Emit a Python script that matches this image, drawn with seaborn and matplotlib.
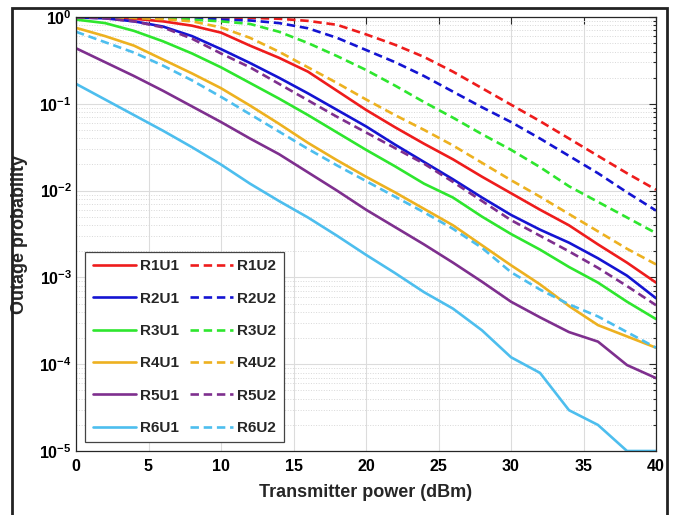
import matplotlib
matplotlib.use('Agg')
import matplotlib.pyplot as plt
import numpy as np
import pandas as pd
import seaborn as sns
from matplotlib.patches import Rectangle
from matplotlib.ticker import LogLocator, NullFormatter, FixedLocator

# transmitter power (dBm)
power = np.arange(0, 41, 2)

# outage probability, stored as log10 values
r1u1 = [-0.00, -0.005, -0.02, -0.05, -0.10, -0.18, -0.33, -0.47, -0.63, -0.85, -1.07,
        -1.27, -1.46, -1.64, -1.84, -2.03, -2.22, -2.40, -2.62, -2.83, -3.06]
r1u2 = [0.0, 0.0, 0.0, 0.0, -0.002, -0.005, -0.01, -0.02, -0.045, -0.09, -0.20,
        -0.32, -0.46, -0.63, -0.82, -1.01, -1.20, -1.40, -1.60, -1.80, -1.99]
r2u1 = [-0.005, -0.015, -0.05, -0.11, -0.22, -0.37, -0.53, -0.70, -0.88, -1.07, -1.26,
        -1.47, -1.67, -1.87, -2.08, -2.28, -2.45, -2.60, -2.78, -2.98, -3.24]
r2u2 = [0.0, 0.0, -0.003, -0.007, -0.015, -0.03, -0.04, -0.07, -0.13, -0.24, -0.38,
        -0.52, -0.68, -0.86, -1.04, -1.21, -1.40, -1.60, -1.80, -2.02, -2.23]
r3u1 = [-0.03, -0.07, -0.16, -0.28, -0.42, -0.58, -0.76, -0.94, -1.13, -1.33, -1.53,
        -1.72, -1.92, -2.08, -2.30, -2.50, -2.68, -2.88, -3.06, -3.28, -3.48]
r3u2 = [-0.002, -0.004, -0.008, -0.015, -0.03, -0.05, -0.08, -0.17, -0.30, -0.45, -0.61,
        -0.79, -0.98, -1.16, -1.35, -1.53, -1.73, -1.95, -2.13, -2.31, -2.49]
r4u1 = [-0.125, -0.22, -0.33, -0.49, -0.65, -0.82, -1.02, -1.23, -1.45, -1.65, -1.84,
        -2.02, -2.21, -2.40, -2.63, -2.86, -3.08, -3.33, -3.55, -3.68, -3.81]
r4u2 = [0.0, -0.005, -0.01, -0.025, -0.05, -0.12, -0.24, -0.40, -0.58, -0.76, -0.95,
        -1.13, -1.30, -1.48, -1.68, -1.88, -2.07, -2.27, -2.47, -2.67, -2.85]
r5u1 = [-0.36, -0.52, -0.68, -0.85, -1.03, -1.21, -1.40, -1.58, -1.79, -2.00, -2.22,
        -2.42, -2.62, -2.83, -3.05, -3.28, -3.46, -3.63, -3.74, -4.01, -4.16]
r5u2 = [-0.003, -0.015, -0.05, -0.12, -0.25, -0.42, -0.58, -0.77, -0.96, -1.15, -1.33,
        -1.51, -1.69, -1.90, -2.12, -2.34, -2.52, -2.70, -2.89, -3.10, -3.32]
r6u1 = [-0.77, -0.95, -1.13, -1.31, -1.50, -1.70, -1.92, -2.12, -2.31, -2.52, -2.74,
        -2.95, -3.17, -3.36, -3.61, -3.92, -4.10, -4.53, -4.70, -5.00, -5.00]
r6u2 = [-0.17, -0.29, -0.41, -0.56, -0.73, -0.92, -1.12, -1.32, -1.52, -1.71, -1.89,
        -2.07, -2.25, -2.44, -2.66, -2.94, -3.14, -3.31, -3.45, -3.63, -3.81]

labels_u1 = ['R1U1', 'R2U1', 'R3U1', 'R4U1', 'R5U1', 'R6U1']
labels_u2 = ['R1U2', 'R2U2', 'R3U2', 'R4U2', 'R5U2', 'R6U2']
series_u1 = [r1u1, r2u1, r3u1, r4u1, r5u1, r6u1]
series_u2 = [r1u2, r2u2, r3u2, r4u2, r5u2, r6u2]
colors = ['#ee1c1c', '#1414d2', '#2ee62e', '#edb120', '#7e2f8e', '#4dbeee']


def main():
    sns.set_style('white')
    plt.rcParams['font.family'] = ['Liberation Sans', 'DejaVu Sans']
    plt.rcParams['font.weight'] = 'bold'
    plt.rcParams['mathtext.fontset'] = 'custom'
    plt.rcParams['mathtext.rm'] = 'Liberation Sans:bold'
    plt.rcParams['mathtext.bf'] = 'Liberation Sans:bold'
    plt.rcParams['mathtext.default'] = 'bf'

    fig = plt.figure(figsize=(6.76, 5.15), dpi=100)
    ax = fig.add_axes([76 / 676, 1 - 451 / 515, 580 / 676, 434 / 515])

    handles = []
    for labels, series, ls in [(labels_u1, series_u1, '-'), (labels_u2, series_u2, '--')]:
        for lab, vals, col in zip(labels, series, colors):
            df = pd.DataFrame({'power': power, 'outage': 10.0 ** np.array(vals)})
            sns.lineplot(data=df, x='power', y='outage', ax=ax, color=col, lw=1.9,
                         linestyle=ls, label=lab, legend=False)
            line = ax.get_lines()[-1]
            if ls == '--':
                line.set_dashes((3.2, 1.8))
            handles.append(line)

    ax.set_yscale('log')
    ax.set_xlim(0, 40)
    ax.set_ylim(1e-5, 1)
    ax.xaxis.set_major_locator(FixedLocator(np.arange(0, 41, 5)))
    ax.yaxis.set_major_locator(FixedLocator([1e-5, 1e-4, 1e-3, 1e-2, 1e-1, 1]))
    ax.yaxis.set_minor_locator(LogLocator(base=10, subs=np.arange(2, 10), numticks=20))
    ax.yaxis.set_minor_formatter(NullFormatter())
    ax.set_yticklabels([r'$\mathbf{10^{%d}}$' % e for e in range(-5, 1)])

    ax.grid(True, which='major', color='#dcdcdc', lw=0.8)
    ax.grid(True, which='minor', axis='y', color='#d8d8d8', lw=0.7, ls=':')
    ax.tick_params(which='both', direction='in', top=True, right=True,
                   labelsize=11.5, colors='#262626', width=0.8)
    ax.tick_params(which='major', length=5)
    ax.tick_params(which='minor', length=2.5)
    ax.tick_params(axis='x', pad=6)
    ax.tick_params(axis='y', pad=3)
    for lab in ax.get_xticklabels() + ax.get_yticklabels():
        lab.set_fontweight('bold')
        lab.set_color('black')
    for sp in ax.spines.values():
        sp.set_color('#262626')
        sp.set_linewidth(0.9)

    ax.set_xlabel('Transmitter power (dBm)', fontsize=13, fontweight='bold')
    ax.set_ylabel('Outage probability', fontsize=13, fontweight='bold')
    ax.xaxis.set_label_coords(0.5, -0.075)
    ax.yaxis.set_label_coords(-0.082, 0.5)

    leg = ax.legend(handles=handles, labels=labels_u1 + labels_u2, ncol=2, loc='lower left',
                    bbox_to_anchor=(0.003, 0.002), prop={'weight': 'bold', 'size': 11},
                    handlelength=2.8, handletextpad=0.3, columnspacing=0.7,
                    labelspacing=1.2, borderpad=0.5, fancybox=False, framealpha=1)
    leg.get_frame().set_edgecolor('#444444')
    leg.get_frame().set_linewidth(0.9)

    fig.add_artist(Rectangle((12 / 676, -0.1), 655 / 676, 1.1 - 8 / 515,
                             transform=fig.transFigure, fill=False, lw=2, ec='#222222'))

    fig.savefig('out.png', dpi=100)


if __name__ == '__main__':
    main()
